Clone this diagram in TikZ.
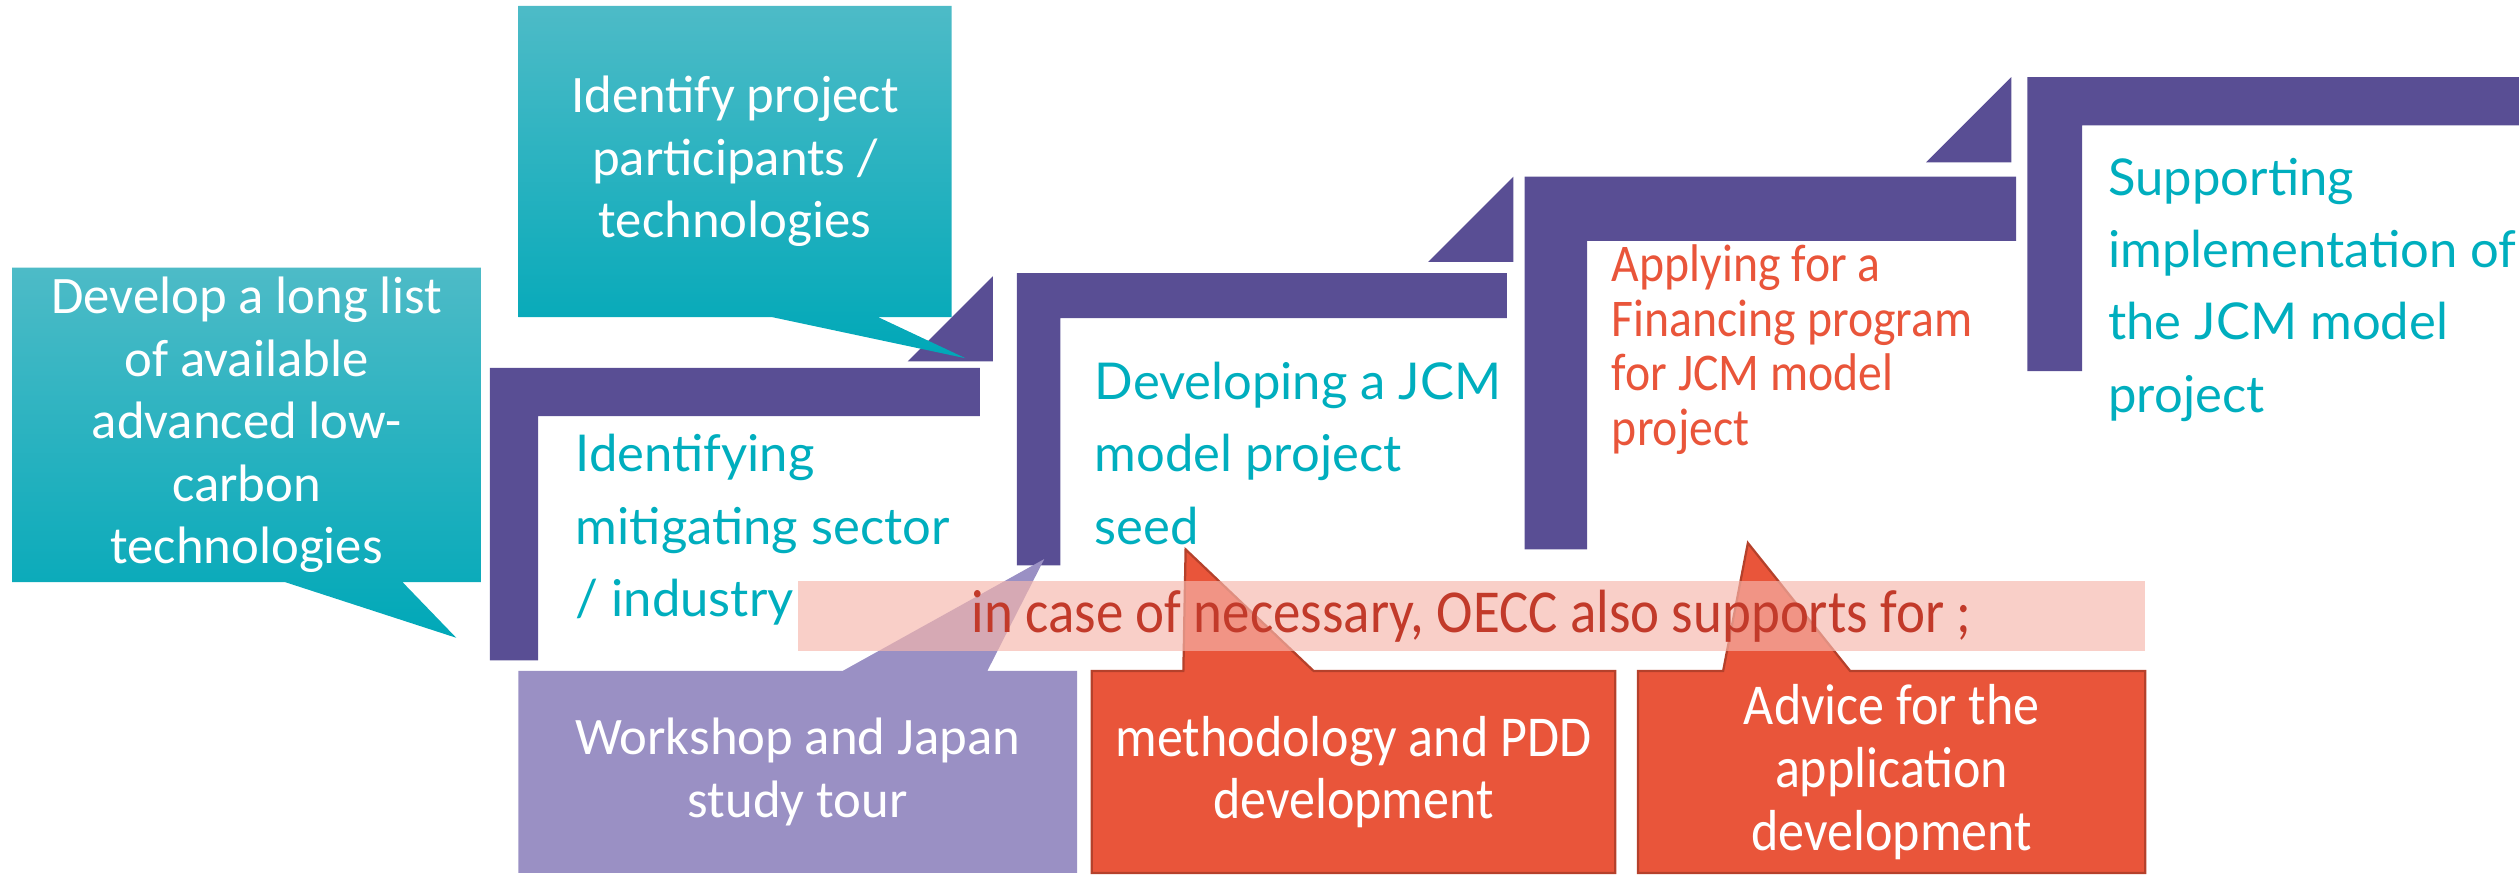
\documentclass[tikz,border=0pt]{standalone}
\usepackage{fontspec}
\setmainfont{Carlito}
\newfontfamily\stepfont{Lato}
\newfontfamily\narrowfont[FakeStretch=0.9]{Carlito}
\usetikzlibrary{calc, backgrounds}

\definecolor{steppurple}{HTML}{594E94}
\definecolor{tealtop}{HTML}{4DBBC7}
\definecolor{tealbot}{HTML}{00A8B8}
\definecolor{tealtext}{HTML}{00AEBE}
\definecolor{oeccred}{HTML}{E9553A}
\definecolor{oeccredline}{HTML}{B5412B}
\definecolor{lavender}{HTML}{9A90C4}
\definecolor{bandpink}{HTML}{F6B6AC}
\definecolor{bandtext}{HTML}{C23A2A}

\tikzset{
  stepfill/.style={fill=steppurple},
  steptext/.style={anchor=north west, inner sep=0pt, align=left, text=tealtext,
    font=\stepfont\fontsize{15.8}{22.5}\selectfont},
  boxtext/.style={inner sep=0pt, align=center, text=white,
    font=\fontsize{16.4}{19.5}\selectfont},
  redtext/.style={boxtext, font=\narrowfont\fontsize{18}{19.5}\selectfont},
}

\begin{document}
\begin{tikzpicture}[x=0.5pt, y=-0.5pt]
	\useasboundingbox (0,0) rectangle (1568,545);

	\node[boxtext, minimum width=145.5pt, minimum height=97.5pt] (longlist) at (153.5,264.5)
		{Develop a long list\\of available\\advanced low-\\carbon\\technologies};
	\node[boxtext, minimum width=134.5pt, minimum height=96.5pt] (participants) at (457.5,100.5)
		{Identify project\\participants /\\technologies};

	\node[steptext] (sector) at (358,270) {Identifying\\mitigating sector\\/ industry};
	\node[steptext] (seed) at (681,225) {Developing a JCM\\model project\\seed};
	\node[steptext, text=oeccred, font=\narrowfont\fontsize{16.5}{17}\selectfont] (finance) at (1003,152)
		{Applying for a\\Financing program\\for JCM model\\project};
	\node[steptext] (implement) at (1312,98) {Supporting\\implementation of\\the JCM model\\project};

	\node[boxtext, minimum width=173.5pt, minimum height=62.5pt] (workshop) at (496.5,480.5)
		{Workshop and Japan\\study tour};
	\node[redtext, minimum width=162.5pt, minimum height=62.5pt] (pdd) at (842.5,480.5)
		{methodology and PDD\\development};
	\node[redtext, minimum width=157.5pt, minimum height=62.5pt] (advice) at (1177.5,480.5)
		{Advice for the\\application\\development};
	\node[inner sep=0pt, minimum width=419pt, minimum height=21.5pt, text=bandtext,
		font=\narrowfont\fontsize{19}{20}\selectfont] (band) at (916,383.5)
		{in case of necessary, OECC also supports for ;};

	\coordinate (tiplist) at (284,397);
	\coordinate (tippart) at (601,223);
	\coordinate (tipwork) at (650,348);
	\coordinate (tippdd) at (738,342);
	\coordinate (tipadvice) at (1088,338);

	\begin{scope}[on background layer]
		\foreach \l/\t/\r/\h/\v/\b in {305/229/610/30/30/411, 633/170/938/28/27/352,
				949/110/1255/40/39/342, 1262/48/1568/30/34/231}
			\fill[stepfill] (\l,\t) -- (\r,\t) -- (\r,\t+\h) -- (\l+\v,\t+\h) -- (\l+\v,\b) -- (\l,\b) -- cycle;
		\foreach \x/\y in {618/172, 942/110, 1252/48}
			\fill[stepfill] (\x,\y) -- (\x,\y+53) -- (\x-53,\y+53) -- cycle;

		\shade[top color=tealtop, bottom color=tealbot] (longlist.north west) -- (longlist.north east)
			-- (longlist.south east) -- ($(longlist.south west)+(243,0)$) -- (tiplist)
			-- ($(longlist.south west)+(170,0)$) -- (longlist.south west) -- cycle;
		\shade[top color=tealtop, bottom color=tealbot] (participants.north west) -- (participants.north east)
			-- (participants.south east) -- ($(participants.south west)+(224,0)$) -- (tippart)
			-- ($(participants.south west)+(158,0)$) -- (participants.south west) -- cycle;

		\fill[lavender] (workshop.south west) -- (workshop.north west) -- ($(workshop.north west)+(202,0)$)
			-- (tipwork) -- ($(workshop.north west)+(292,0)$) -- (workshop.north east) -- (workshop.south east) -- cycle;
		\filldraw[fill=oeccred, draw=oeccredline, line width=0.7pt] (pdd.south west) -- (pdd.north west)
			-- ($(pdd.north west)+(57,0)$) -- (tippdd) -- ($(pdd.north west)+(138,0)$)
			-- (pdd.north east) -- (pdd.south east) -- cycle;
		\filldraw[fill=oeccred, draw=oeccredline, line width=0.7pt] (advice.south west) -- (advice.north west)
			-- ($(advice.north west)+(53,0)$) -- (tipadvice) -- ($(advice.north west)+(132,0)$)
			-- (advice.north east) -- (advice.south east) -- cycle;

		\fill[bandpink, opacity=0.66] (band.south west) rectangle (band.north east);
	\end{scope}
\end{tikzpicture}
\end{document}
